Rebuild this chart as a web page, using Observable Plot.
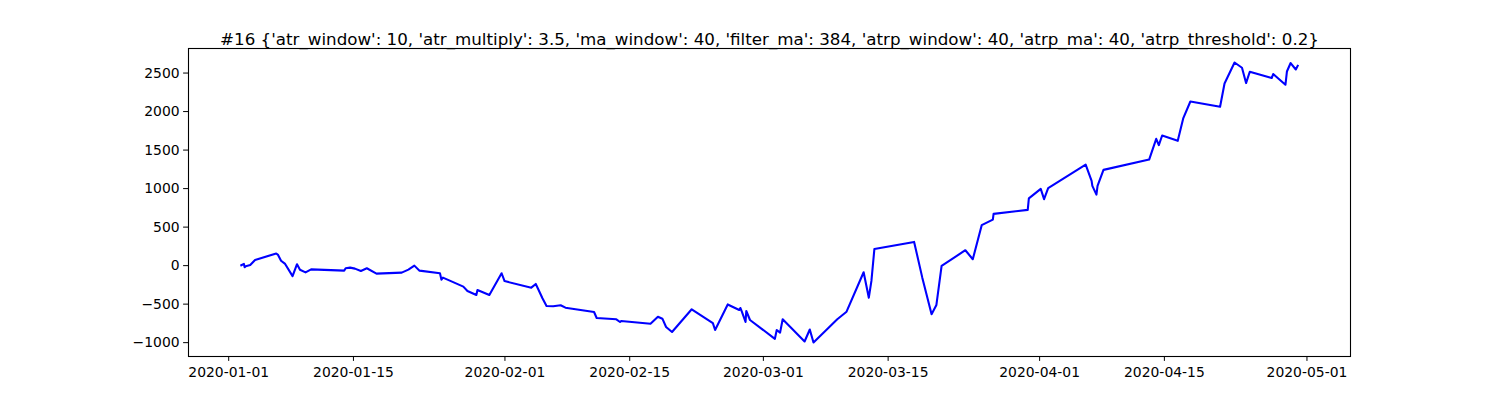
<!DOCTYPE html>
<html>
<head>
<meta charset="utf-8">
<script src="https://cdn.jsdelivr.net/npm/d3@7"></script>
<script src="https://cdn.jsdelivr.net/npm/@observablehq/plot@0.6"></script>
<style>
  html, body { margin: 0; padding: 0; background: #fff; }
</style>
</head>
<body>
<div id="chart"></div>
<script>
const title = "#16 {'atr_window': 10, 'atr_multiply': 3.5, 'ma_window': 40, 'filter_ma': 384, 'atrp_window': 40, 'atrp_ma': 40, 'atrp_threshold': 0.2}";

const times = [
  "2020-01-02T10:00","2020-01-02T17:00","2020-01-02T19:00","2020-01-02T22:00","2020-01-03T10:00",
  "2020-01-03T23:00","2020-01-06T08:00","2020-01-06T13:00","2020-01-06T21:00","2020-01-07T08:00",
  "2020-01-08T04:00","2020-01-08T16:00","2020-01-09T00:00","2020-01-09T15:00","2020-01-10T06:00",
  "2020-01-13T23:00","2020-01-14T03:00","2020-01-14T15:00","2020-01-15T04:00","2020-01-15T20:00",
  "2020-01-16T12:00","2020-01-17T14:00","2020-01-20T10:00","2020-01-21T04:00","2020-01-21T20:00",
  "2020-01-22T10:00","2020-01-24T17:00","2020-01-24T21:00","2020-01-25T01:00","2020-01-27T08:00",
  "2020-01-27T19:00","2020-01-28T19:00","2020-01-28T22:00","2020-01-30T06:00","2020-01-31T15:00",
  "2020-01-31T23:00","2020-02-03T23:00","2020-02-04T11:00","2020-02-04T19:00","2020-02-05T05:00",
  "2020-02-05T16:00","2020-02-06T10:00","2020-02-07T06:00","2020-02-07T19:00","2020-02-11T00:00",
  "2020-02-11T07:00","2020-02-13T12:00","2020-02-13T22:00","2020-02-14T01:00","2020-02-17T08:00",
  "2020-02-18T04:00","2020-02-18T16:00","2020-02-19T02:00","2020-02-19T18:00","2020-02-21T23:00",
  "2020-02-24T08:00","2020-02-24T14:00","2020-02-26T00:00","2020-02-27T07:00","2020-02-27T10:00",
  "2020-02-27T14:00","2020-02-28T00:00","2020-02-28T02:00","2020-02-28T12:00","2020-03-02T07:00",
  "2020-03-02T12:00","2020-03-02T21:00","2020-03-03T04:00","2020-03-05T15:00","2020-03-06T05:00",
  "2020-03-06T15:00","2020-03-09T07:00","2020-03-10T08:00","2020-03-12T06:00","2020-03-12T20:00",
  "2020-03-13T03:00","2020-03-13T11:00","2020-03-17T22:00","2020-03-18T20:00","2020-03-19T21:00",
  "2020-03-20T10:00","2020-03-21T00:00","2020-03-23T16:00","2020-03-24T12:00","2020-03-25T12:00",
  "2020-03-26T18:00","2020-03-26T20:00","2020-03-30T16:00","2020-03-30T19:00","2020-04-01T03:00",
  "2020-04-01T12:00","2020-04-01T23:00","2020-04-06T04:00","2020-04-06T20:00","2020-04-06T22:00",
  "2020-04-07T09:00","2020-04-07T12:00","2020-04-08T04:00","2020-04-13T07:00","2020-04-14T02:00",
  "2020-04-14T09:00","2020-04-14T18:00","2020-04-16T12:00","2020-04-17T03:00","2020-04-17T22:00",
  "2020-04-21T06:00","2020-04-21T18:00","2020-04-22T21:00","2020-04-23T17:00","2020-04-24T04:00",
  "2020-04-24T14:00","2020-04-27T01:00","2020-04-27T05:00","2020-04-28T14:00","2020-04-28T18:00",
  "2020-04-29T04:00","2020-04-29T18:00","2020-04-29T23:00"
];

const values = [
  5, 22, -21, -8, 9,
  74, 158, 139, 64, 22,
  -136, 18, -53, -88, -49,
  -65, -34, -26, -39, -69,
  -34, -104, -91, -52, 0,
  -65, -99, -182, -156, -273,
  -329, -381, -316, -381, -99,
  -201, -286, -238, -320, -424,
  -524, -527, -514, -546, -602,
  -680, -697, -732, -719, -754,
  -663, -689, -797, -862, -567,
  -747, -836, -504, -576, -550,
  -598, -732, -589, -706, -950,
  -835, -870, -696, -985, -829,
  -998, -696, -598, -86, -416,
  -199, 217, 308, -156, -631,
  -511, -4, 200, 83, 525,
  598, 672, 724, 873, 996,
  863, 1006, 1312, 1100, 1035,
  922, 1035, 1243, 1377, 1646,
  1564, 1689, 1620, 1915, 2131,
  2062, 2365, 2637, 2569, 2370,
  2517, 2435, 2487, 2348, 2520,
  2630, 2546, 2594
];

const xTickLabels = ["2020-01-01","2020-01-15","2020-02-01","2020-02-15","2020-03-01","2020-03-15","2020-04-01","2020-04-15","2020-05-01"];
const yTickValues = [-1000, -500, 0, 500, 1000, 1500, 2000, 2500];

const data = times.map((t, i) => ({date: new Date(t + "Z"), value: values[i]}));
const xTicks = xTickLabels.map(s => new Date(s + "T00:00Z"));

// matplotlib-like 5% margins
const t0 = d3.min(data, d => +d.date), t1 = d3.max(data, d => +d.date);
const v0 = d3.min(values), v1 = d3.max(values);
const dt = (t1 - t0) * 0.05, dv = (v1 - v0) * 0.05;

const fmtY = d => d < 0 ? "\u2212" + Math.abs(d) : String(d);

const chart = Plot.plot({
  width: 1500,
  height: 400,
  marginLeft: 188,
  marginRight: 150,
  marginTop: 48,
  marginBottom: 44,
  style: {fontFamily: "'DejaVu Sans', sans-serif", fontSize: "13.9px", background: "#fff", color: "#000"},
  x: {
    type: "utc",
    domain: [new Date(t0 - dt), new Date(t1 + dt)],
    ticks: xTicks,
    tickFormat: d3.utcFormat("%Y-%m-%d"),
    tickSize: 4.9,
    tickPadding: 6,
    label: null
  },
  y: {
    domain: [v0 - dv, v1 + dv],
    ticks: yTickValues,
    tickFormat: fmtY,
    tickSize: 4.9,
    tickPadding: 4,
    label: null
  },
  marks: [
    Plot.lineY(data, {x: "date", y: "value", stroke: "#0000ff", strokeWidth: 2.08, strokeLinejoin: "round", strokeLinecap: "square"}),
    Plot.frame({stroke: "#000", strokeWidth: 1.1}),
    Plot.text([title], {frameAnchor: "top", dy: -15, text: d => d, fontSize: 16.7, fill: "#000"})
  ]
});
document.getElementById("chart").appendChild(chart);
</script>
</body>
</html>
